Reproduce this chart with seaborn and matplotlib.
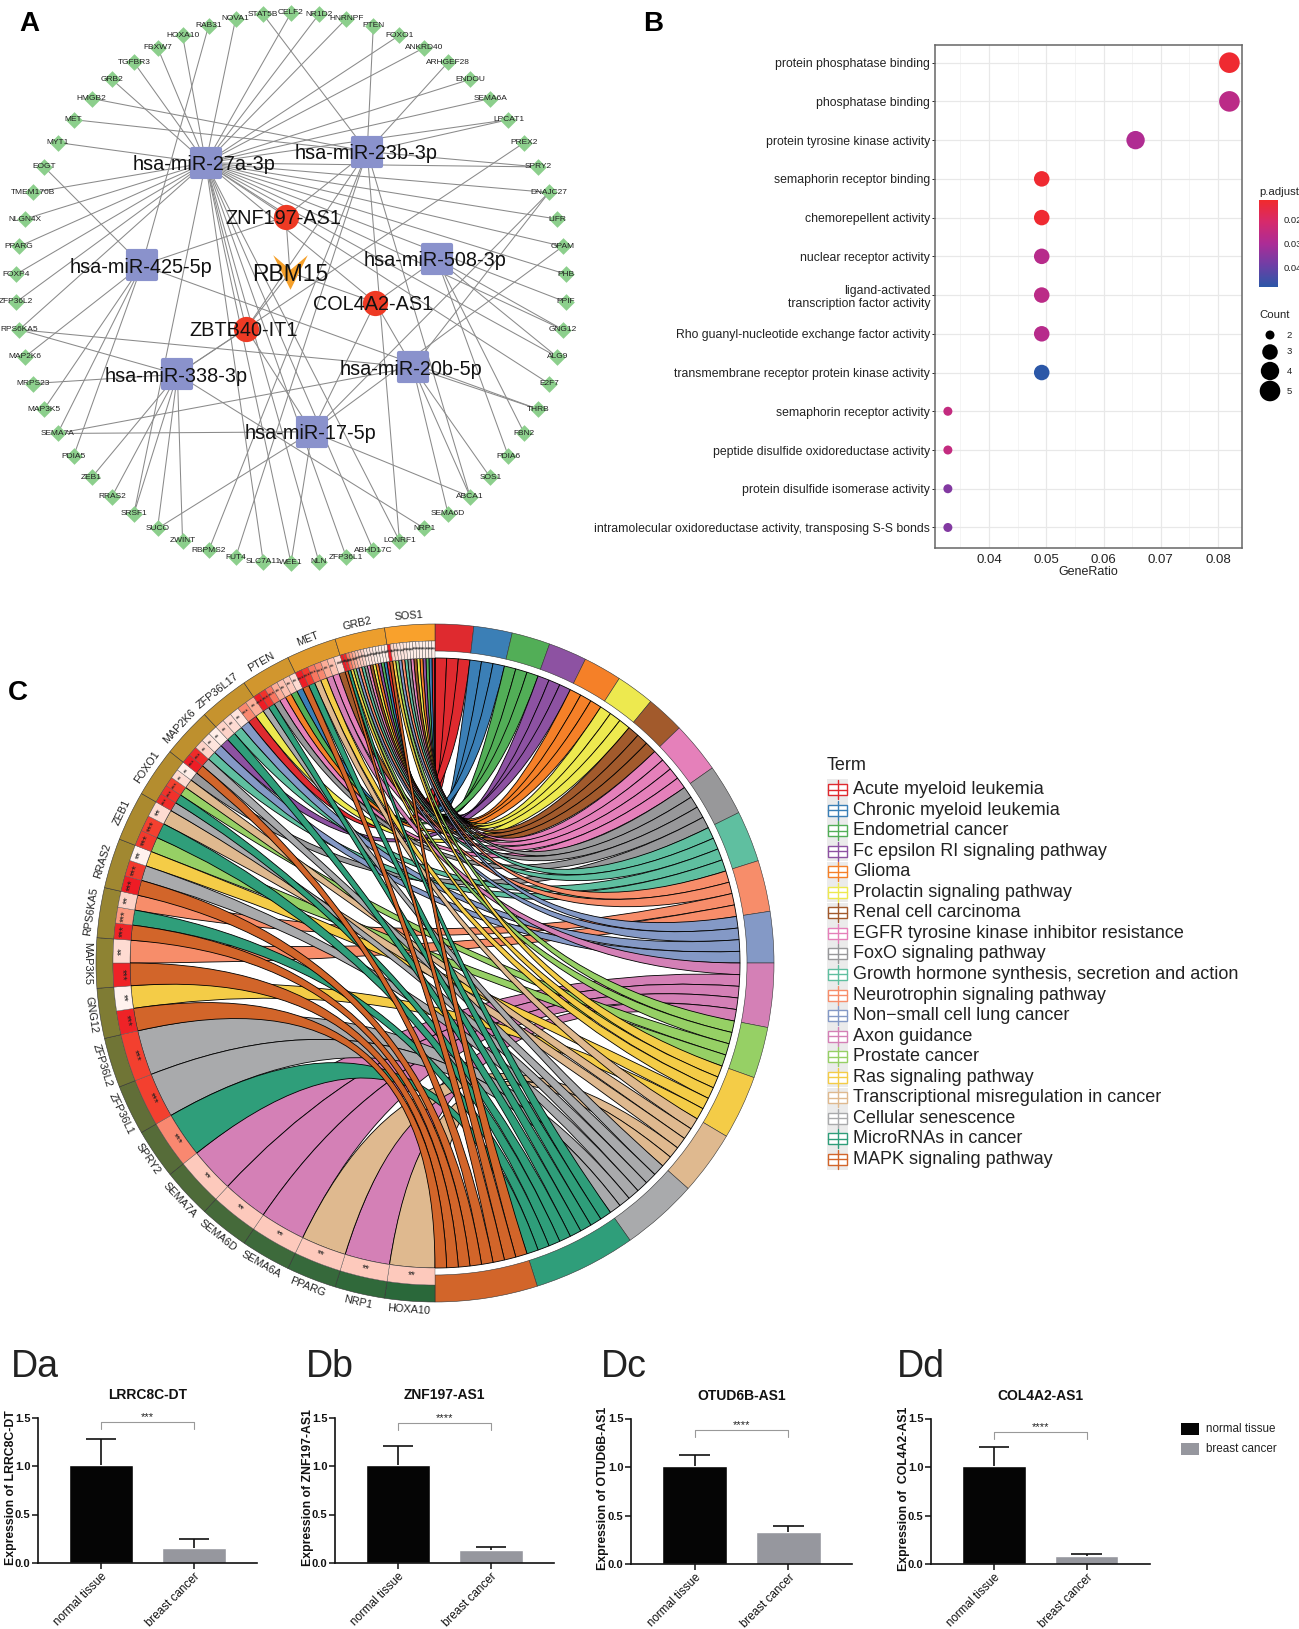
import numpy as np
import pandas as pd
import seaborn as sns
import matplotlib
matplotlib.use("Agg")
import matplotlib.pyplot as plt
from matplotlib.cm import ScalarMappable
from matplotlib.colors import LinearSegmentedColormap, Normalize
from matplotlib.markers import MarkerStyle
from matplotlib.patches import PathPatch, Rectangle, Wedge
from matplotlib.path import Path

W, H = 1299, 1629

# panel A
ring_genes = ["CELF2", "NR1D2", "HNRNPF", "PTEN", "FOXO1", "ANKRD40", "ARHGEF28", "ENDOU", "SEMA6A", "LPCAT1",
              "PREX2", "SPRY2", "DNAJC27", "LIFR", "GPAM", "PHB", "PPIF", "GNG12", "ALG9", "E2F7", "THRB", "FBN2",
              "PDIA6", "SOS1", "ABCA1", "SEMA6D", "NRP1", "LONRF1", "ABHD17C", "ZFP36L1", "NLN", "WEE1", "SLC7A11",
              "FUT4", "RBPMS2", "ZWINT", "SUCO", "SRSF1", "RRAS2", "ZEB1", "PDIA5", "SEMA7A", "MAP3K5", "MRPS23",
              "MAP2K6", "RPS6KA5", "ZFP36L2", "FOXP4", "PPARG", "NLGN4X", "TMEM170B", "EOGT", "MYT1", "MET",
              "HMGB2", "GRB2", "TGFBR3", "FBXW7", "HOXA10", "RAB31", "NOVA1", "STAT5B"]
hub_names = ["hsa-miR-27a-3p", "hsa-miR-23b-3p", "hsa-miR-508-3p", "hsa-miR-20b-5p", "hsa-miR-17-5p",
             "hsa-miR-338-3p", "hsa-miR-425-5p"]
hub_x = [-0.31, 0.277, 0.53, 0.443, 0.076, -0.413, -0.542]
hub_y = [0.455, 0.496, 0.106, -0.288, -0.523, -0.314, 0.083]
lnc_names = ["ZNF197-AS1", "COL4A2-AS1", "ZBTB40-IT1"]
lnc_x = [-0.019, 0.307, -0.163]
lnc_y = [0.26, -0.053, -0.148]
rbm_x = [-0.004]
rbm_y = [0.057]

targets_27a = ["GRB2", "TGFBR3", "FBXW7", "HOXA10", "NOVA1", "CELF2", "NR1D2", "HNRNPF", "FOXO1", "ANKRD40", "ENDOU",
               "SEMA6A", "LPCAT1", "SPRY2", "DNAJC27", "LIFR", "GPAM", "PHB", "PPIF", "GNG12", "ALG9", "E2F7",
               "LONRF1", "ABHD17C", "ZFP36L1", "NLN", "WEE1", "SLC7A11", "SRSF1", "RPS6KA5", "ZFP36L2", "FOXP4",
               "PPARG", "NLGN4X", "TMEM170B", "MYT1"]
targets_23b = ["STAT5B", "PTEN", "ARHGEF28", "LPCAT1", "SPRY2", "MET", "HMGB2", "ABCA1", "LONRF1", "FUT4", "RBPMS2"]
targets_508 = ["GNG12", "ALG9", "FBN2", "PDIA6"]
targets_20b = ["DNAJC27", "THRB", "SOS1", "ABCA1", "SEMA6D", "SEMA7A", "RPS6KA5"]
targets_17 = ["DNAJC27", "GPAM", "ABCA1", "WEE1", "SUCO", "SEMA7A"]
targets_338 = ["PREX2", "NRP1", "ZWINT", "SUCO", "SRSF1", "RRAS2", "ZEB1", "MRPS23", "RPS6KA5"]
targets_425 = ["RAB31", "THRB", "PDIA5", "SEMA7A", "MAP3K5", "MAP2K6", "EOGT"]
hub_targets = [targets_27a, targets_23b, targets_508, targets_20b, targets_17, targets_338, targets_425]
lnc_hubs = [[0, 1, 6], [0, 2, 3, 4], [1, 5, 4, 0]]

# panel B
go_terms = ["protein phosphatase binding", "phosphatase binding", "protein tyrosine kinase activity",
            "semaphorin receptor binding", "chemorepellent activity", "nuclear receptor activity",
            "ligand-activated\ntranscription factor activity", "Rho guanyl-nucleotide exchange factor activity",
            "transmembrane receptor protein kinase activity", "semaphorin receptor activity",
            "peptide disulfide oxidoreductase activity", "protein disulfide isomerase activity",
            "intramolecular oxidoreductase activity, transposing S-S bonds"]
gene_ratio = [0.082, 0.082, 0.0656, 0.0492, 0.0492, 0.0492, 0.0492, 0.0492, 0.0492, 0.0328, 0.0328, 0.0328, 0.0328]
go_count = [5, 5, 4, 3, 3, 3, 3, 3, 3, 2, 2, 2, 2]
p_adjust = [0.0125, 0.0265, 0.029, 0.0125, 0.0125, 0.0275, 0.0265, 0.0275, 0.048, 0.025, 0.025, 0.036, 0.036]

# panel C
terms = ["Acute myeloid leukemia", "Chronic myeloid leukemia", "Endometrial cancer", "Fc epsilon RI signaling pathway",
         "Glioma", "Prolactin signaling pathway", "Renal cell carcinoma", "EGFR tyrosine kinase inhibitor resistance",
         "FoxO signaling pathway", "Growth hormone synthesis, secretion and action", "Neurotrophin signaling pathway",
         "Non\u2212small cell lung cancer", "Axon guidance", "Prostate cancer", "Ras signaling pathway",
         "Transcriptional misregulation in cancer", "Cellular senescence", "MicroRNAs in cancer",
         "MAPK signaling pathway"]
term_colors = ["#DF2A2F", "#3B7FB6", "#52AE57", "#8D52A2", "#F58028", "#EDE94F", "#A25A2C", "#E580BA", "#98989A",
               "#5FBFA0", "#F78D6A", "#8499C6", "#D480B6", "#96D065", "#F4CC47", "#DFB98F", "#A9AAAC", "#2F9E7A",
               "#D2652A"]
chord_genes = ["HOXA10", "NRP1", "PPARG", "SEMA6A", "SEMA6D", "SEMA7A", "SPRY2", "ZFP36L1", "ZFP36L2", "GNG12",
               "MAP3K5", "RPS6KA5", "RRAS2", "ZEB1", "FOXO1", "MAP2K6", "ZFP36L17", "PTEN", "MET", "GRB2", "SOS1"]
gene_terms = [[15], [12], [15], [12], [12], [12], [17], [16], [16], [18, 14], [18, 10], [18, 17, 10], [18, 16, 14],
              [13, 17, 15], [16, 17, 13, 15, 8], [18, 16, 9, 11, 3], [17, 9, 11, 0, 5], [16, 17, 8, 7, 4, 2, 1],
              [18, 17, 15, 14, 12, 7, 6], [18, 17, 14, 13, 11, 10, 9, 8, 7, 6, 5, 4, 3, 2, 1, 0],
              [18, 14, 13, 11, 10, 9, 8, 7, 6, 5, 4, 3, 2, 1, 0]]
# fold change shade of each cell, 0 is white and 1 is full red
gene_fc = [[0.25], [0.25], [0.25], [0.25], [0.25], [0.25], [0.55], [0.75], [0.75], [0.95, 0.02], [0.95, 0.15],
           [0.95, 0.5, 0.2], [1.0, 0.8, 0.02], [0.8, 0.75, 0.15], [0.9, 0.85, 0.75, 0.15, 0.05],
           [1.0, 0.9, 0.2, 0.1, 0.05], [0.2, 0.15, 0.1, 0.55, 0.4], [1.0, 0.85, 0.6, 0.4, 0.3, 0.25, 0.15],
           [1.0, 0.8, 0.6, 0.55, 0.4, 0.3, 0.15],
           [1.0, 0.9, 0.6, 0.5, 0.4, 0.3, 0.25, 0.2, 0.1, 0.1, 0.1, 0.05, 0.05, 0.05, 0.05, 0.05],
           [1.0, 0.2, 0.15, 0.1, 0.1, 0.1, 0.05, 0.05, 0.05, 0.05, 0.05, 0.05, 0.05, 0.05, 0.05]]

# panel D
groups = ["normal tissue", "breast cancer"]
group_colors = ["#050505", "#96979E"]
d_letters = ["Da", "Db", "Dc", "Dd"]
d_titles = ["LRRC8C-DT", "ZNF197-AS1", "OTUD6B-AS1", "COL4A2-AS1"]
d_ylabels = ["Expression of LRRC8C-DT", "Expression of ZNF197-AS1", "Expression of OTUD6B-AS1",
             "Expression of  COL4A2-AS1"]
d_means = [[1.01, 0.15], [1.01, 0.13], [1.01, 0.33], [1.01, 0.08]]
d_errs = [[0.27, 0.10], [0.20, 0.04], [0.11, 0.06], [0.20, 0.02]]
d_stars = ["***", "****", "****", "****"]
d_bracket = [1.45, 1.44, 1.38, 1.36]

sns.set_theme(style="white")
plt.rcParams["font.family"] = ["Liberation Sans", "DejaVu Sans"]

fig = plt.figure(figsize=(W / 100, H / 100), dpi=100)


def px_axes(left, top, right, bottom):
    return fig.add_axes([left / W, 1 - bottom / H, (right - left) / W, (bottom - top) / H])


def px_text(x, y, s, **kwargs):
    fig.text(x / W, 1 - y / H, s, **kwargs)


def network_panel():
    ax = px_axes(0, 0, 582, 576)
    ax.set_xlim(-291 / 275, 291 / 275)
    ax.set_ylim(-288 / 275, 288 / 275)
    ax.axis("off")

    angles = np.deg2rad(90 - np.arange(len(ring_genes)) * 360 / len(ring_genes))
    gene_df = pd.DataFrame({"gene": ring_genes, "x": np.cos(angles), "y": np.sin(angles)}).set_index("gene")

    for i, genes in enumerate(hub_targets):
        for gene in genes:
            ax.plot([hub_x[i], gene_df.loc[gene, "x"]], [hub_y[i], gene_df.loc[gene, "y"]],
                    color="#8a8a8a", lw=0.75, zorder=1)
    for i, hubs in enumerate(lnc_hubs):
        ax.plot([lnc_x[i], rbm_x[0]], [lnc_y[i], rbm_y[0]], color="#8a8a8a", lw=0.75, zorder=1)
        for h in hubs:
            ax.plot([lnc_x[i], hub_x[h]], [lnc_y[i], hub_y[h]], color="#8a8a8a", lw=0.75, zorder=1)

    sns.scatterplot(data=gene_df, x="x", y="y", marker="D", s=72, color="#8CCF8C", linewidth=0, ax=ax, zorder=2)
    ax.set_xlabel("")
    ax.set_ylabel("")
    ax.scatter(hub_x, hub_y, marker=MarkerStyle("s", joinstyle="round"), s=400, color="#8A92CC",
               edgecolor="#8A92CC", linewidth=3, zorder=3)
    ax.scatter(lnc_x, lnc_y, marker="o", s=330, color="#EE3A24", linewidth=0, zorder=3)
    vee = Path([(-1, 1), (0, 0.15), (1, 1), (0, -1), (-1, 1)], closed=True)
    ax.scatter(rbm_x, rbm_y, marker=vee, s=620, color="#F5A02A", linewidth=0, zorder=3)

    for gene, row in gene_df.iterrows():
        ax.text(row["x"], row["y"], gene, fontsize=6, ha="center", va="center", color="#222222", zorder=4)
    for i, name in enumerate(hub_names):
        ax.text(hub_x[i] - 0.005, hub_y[i], name, fontsize=14.3, ha="center", va="center_baseline", color="#111111",
                zorder=5)
    for i, name in enumerate(lnc_names):
        ax.text(lnc_x[i] - 0.008, lnc_y[i], name, fontsize=14.3, ha="center", va="center_baseline", color="#111111",
                zorder=5)
    ax.text(rbm_x[0], rbm_y[0], "RBM15", fontsize=16.5, ha="center", va="center_baseline", color="#111111", zorder=5)


def dot_panel():
    ax = px_axes(935, 45, 1242, 548)
    cmap = LinearSegmentedColormap.from_list("padj", ["#F12A2C", "#D62A6C", "#AC2C96", "#6E3FA6", "#2B57A7"])
    norm = (0.0117, 0.048)
    df = pd.DataFrame({"term": go_terms, "ratio": gene_ratio, "count": go_count, "padj": p_adjust})
    sizes = {2: 42, 3: 125, 4: 175, 5: 220}
    ax.set_axisbelow(True)
    sns.scatterplot(data=df, x="ratio", y="term", hue="padj", hue_norm=norm, palette=cmap, size="count", sizes=sizes,
                    linewidth=0, legend=False, ax=ax, zorder=3)
    ax.set_xlim(0.03055, 0.0842)
    ax.set_ylim(12.53, -0.456)
    ax.set_xticks([0.04, 0.05, 0.06, 0.07, 0.08])
    ax.set_xticks([0.035, 0.045, 0.055, 0.065, 0.075], minor=True)
    ax.grid(True, which="major", color="#E8E8E8", lw=0.9)
    ax.grid(True, which="minor", axis="x", color="#F0F0F0", lw=0.5)
    ax.tick_params(axis="x", labelsize=9.5, length=0, pad=4, labelcolor="#222222")
    ax.tick_params(axis="y", labelsize=8.8, length=2.5, width=0.7, pad=1, left=True, labelcolor="#222222")
    ax.set_xlabel("GeneRatio", fontsize=9, color="#222222", labelpad=0)
    ax.set_ylabel("")
    for side in ax.spines.values():
        side.set_edgecolor("#666666")
        side.set_linewidth(1.1)

    cax = px_axes(1259, 200, 1278, 287)
    cb = fig.colorbar(ScalarMappable(norm=Normalize(*norm), cmap=cmap), cax=cax)
    cb.outline.set_visible(False)
    cax.invert_yaxis()
    cb.set_ticks([0.02, 0.03, 0.04])
    cb.ax.set_yticklabels(["0.02", "0.03", "0.04"])
    cax.tick_params(axis="y", direction="in", right=True, length=3, width=0.5, color="#f5f5f5", labelsize=6.8,
                    labelcolor="#222222", pad=4)
    px_text(1259, 192, "p.adjust", fontsize=8.2, va="center", color="#222222")

    px_text(1259, 315, "Count", fontsize=8.2, va="center", color="#222222")
    lax = px_axes(1259, 325, 1299, 402)
    lax.set_xlim(1259, 1299)
    lax.set_ylim(402, 325)
    key_df = pd.DataFrame({"count": [2, 3, 4, 5], "x": [1270, 1270, 1270, 1270], "y": [335, 352, 371, 391]})
    sns.scatterplot(data=key_df, x="x", y="y", size="count", sizes=sizes, color="black", linewidth=0, legend=False,
                    ax=lax)
    for _, row in key_df.iterrows():
        lax.text(1292, row["y"], str(int(row["count"])), fontsize=6.8, ha="right", va="center", color="#222222")
    lax.axis("off")


def polar(angle, radius):
    a = np.deg2rad(angle)
    return radius * np.cos(a), radius * np.sin(a)


def ribbon(ax, a1, a2, b1, b2, radius, color):
    verts = []
    codes = []
    for i, ang in enumerate(np.linspace(a1, a2, 6)):
        verts.append(polar(ang, radius))
        codes.append(Path.MOVETO if i == 0 else Path.LINETO)
    verts += [(0, 0), polar(b1, radius)]
    codes += [Path.CURVE3, Path.CURVE3]
    for ang in np.linspace(b1, b2, 6)[1:]:
        verts.append(polar(ang, radius))
        codes.append(Path.LINETO)
    verts += [(0, 0), polar(a1, radius)]
    codes += [Path.CURVE3, Path.CURVE3]
    ax.add_patch(PathPatch(Path(verts, codes), facecolor=color, edgecolor="black", lw=0.6))


def chord_panel():
    ax = px_axes(50, 608, 820, 1318)
    ax.set_xlim(-385, 385)
    ax.set_ylim(-355, 355)
    ax.axis("off")
    R_out, R_gene, R_link = 339, 322, 305

    n_links = [sum(t in g for g in gene_terms) for t in range(len(terms))]
    step = 180 / sum(n_links)

    # term sectors, clockwise from the top
    term_slots = {}
    start = 90.0
    for t, n in enumerate(n_links):
        stop = start - n * step
        ax.add_patch(Wedge((0, 0), R_out, stop, start, width=R_out - 312, facecolor=term_colors[t],
                           edgecolor="#333333", lw=0.4))
        term_slots[t] = [start - k * step for k in range(n)]
        start = stop

    gene_shades = LinearSegmentedColormap.from_list("fc", ["#FFF6F2", "#FDC9BC", "#FB9A80", "#F3402F", "#EE1C25"])
    ring_colors = sns.blend_palette(["#2A683A", "#3F6A3B", "#5C6C38", "#8E8333", "#AE8B2F", "#CC952E", "#F9A12C"],
                                    len(chord_genes))
    width = 180 / len(chord_genes)

    # ribbons are collected first so the later terms end up on top
    links = []
    used = {t: 0 for t in range(len(terms))}
    for g in range(len(chord_genes) - 1, -1, -1):
        g_start = 270 - g * width
        cell = width / len(gene_terms[g])
        order = list(enumerate(gene_terms[g]))
        for c, t in sorted(order, key=lambda item: -item[0]):
            a1 = g_start - c * cell
            b1 = term_slots[t][used[t]]
            used[t] += 1
            links.append((t, a1, a1 - cell, b1, b1 - step))
    for t, a1, a2, b1, b2 in sorted(links, key=lambda item: item[0]):
        ribbon(ax, a1, a2, b1, b2, R_link, term_colors[t])

    for g, gene in enumerate(chord_genes):
        g_start = 270 - g * width
        ax.add_patch(Wedge((0, 0), R_out, g_start - width, g_start, width=R_out - R_gene, facecolor=ring_colors[g],
                           edgecolor="#333333", lw=0.4))
        cell = width / len(gene_terms[g])
        star_size = 7 if len(gene_terms[g]) <= 3 else 5
        for c, fc in enumerate(gene_fc[g]):
            a1 = g_start - c * cell
            ax.add_patch(Wedge((0, 0), R_gene, a1 - cell, a1, width=R_gene - R_link, facecolor=gene_shades(fc),
                               edgecolor="#555555", lw=0.3))
            mid = a1 - cell / 2
            rot = mid - 90 if mid < 180 else mid - 270
            x, y = polar(mid, (R_gene + R_link) / 2)
            ax.text(x, y, "***" if fc >= 0.5 else "**", fontsize=star_size, ha="center", va="center", rotation=rot,
                    rotation_mode="anchor", color="#222222")
        mid = g_start - width / 2
        rot = mid - 90 if mid < 180 else mid - 270
        x, y = polar(mid, R_out + 9)
        ax.text(x, y, gene, fontsize=7.8, ha="center", va="center", rotation=rot, rotation_mode="anchor",
                color="#222222")

    # legend of the terms
    lax = px_axes(820, 750, 1299, 1175)
    lax.set_xlim(820, 1299)
    lax.set_ylim(1175, 750)
    lax.axis("off")
    lax.text(827, 765, "Term", fontsize=13, va="center", color="#222222")
    for i, term in enumerate(terms):
        yc = 789.5 + i * 20.55
        lax.add_patch(Rectangle((827, yc - 10.2), 21, 20.4, facecolor="#EBEBEB", edgecolor="none"))
        lax.add_patch(Rectangle((828, yc - 5.5), 19, 11, facecolor="white", edgecolor=term_colors[i], lw=1))
        lax.plot([828, 847], [yc, yc], color=term_colors[i], lw=1)
        lax.plot([837.5, 837.5], [yc - 9.5, yc + 9.5], color=term_colors[i], lw=1)
        lax.text(853, yc, term, fontsize=13, va="center", color="#222222")


def bar_panels():
    boxes = [(38, 257, 1417.5, 1563), (335, 554, 1417.5, 1563), (631, 852, 1418.5, 1564), (931, 1149.5, 1418.5, 1564)]
    letter_x = [11, 306, 601, 897]
    for i, (left, right, top, bottom) in enumerate(boxes):
        ax = px_axes(left, top, right, bottom)
        df = pd.DataFrame({"group": groups, "value": d_means[i]})
        sns.barplot(data=df, x="group", y="value", hue="group", palette=group_colors, width=0.69, saturation=1,
                    dodge=False, legend=False, errorbar=None, ax=ax)
        for x, mean, err in zip([0, 1], d_means[i], d_errs[i]):
            ax.vlines(x, mean, mean + err, color="#111111", lw=1.2)
            ax.hlines(mean + err, x - 0.165, x + 0.165, color="#111111", lw=1.2)
        ax.set_xlim(-0.68, 1.68)
        ax.set_ylim(0, 1.5)
        ax.set_yticks([0, 0.5, 1.0, 1.5])
        ax.set_yticklabels(["0.0", "0.5", "1.0", "1.5"])
        ax.set_xlabel("")
        ax.set_ylabel(d_ylabels[i], fontsize=8.8, fontweight="bold", color="#111111")
        ax.yaxis.set_label_coords(-0.098, 0.52)
        ax.set_title(d_titles[i], fontsize=10, fontweight="bold", color="#111111", pad=13)
        sns.despine(ax=ax)
        for side in ["left", "bottom"]:
            ax.spines[side].set_linewidth(1.2)
            ax.spines[side].set_color("#111111")
        ax.tick_params(axis="both", bottom=True, left=True, length=4, width=1.1, color="#111111", pad=1.5)
        ax.tick_params(axis="y", labelsize=8, labelcolor="#111111")
        plt.setp(ax.get_yticklabels(), fontweight="bold")
        ax.set_xticks([0, 1])
        ax.set_xticklabels(groups, fontsize=8.4, rotation=45, ha="right", rotation_mode="anchor", color="#111111")

        lvl = d_bracket[i]
        ax.plot([0, 0, 1, 1], [lvl - 0.07, lvl, lvl, lvl - 0.07], color="#999999", lw=0.8, clip_on=False)
        ax.text(0.5, lvl + 0.005, d_stars[i], fontsize=8, ha="center", va="bottom", color="#222222")
        px_text(letter_x[i], 1367, d_letters[i], fontsize=27, va="center", color="#222222")

    lax = px_axes(1175, 1420, 1299, 1460)
    lax.set_xlim(1175, 1299)
    lax.set_ylim(1460, 1420)
    lax.axis("off")
    for y, name, color in zip([1429, 1449], groups, group_colors):
        lax.add_patch(Rectangle((1181, y - 6), 18, 12, facecolor=color, edgecolor="none"))
        lax.text(1206, y, name, fontsize=8.4, va="center", color="#222222")


network_panel()
dot_panel()
chord_panel()
bar_panels()

px_text(29, 24, "A", fontsize=20, fontweight="bold", va="center", ha="center", color="black")
px_text(653, 24, "B", fontsize=20, fontweight="bold", va="center", ha="center", color="black")
px_text(18, 693, "C", fontsize=20, fontweight="bold", va="center", ha="center", color="black")

fig.savefig("out.png", dpi=100)
plt.close(fig)
